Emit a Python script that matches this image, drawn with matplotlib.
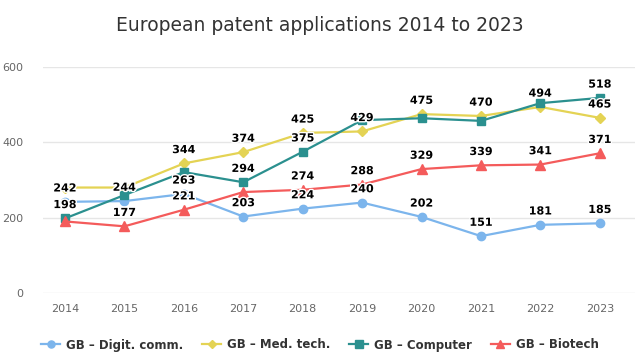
import matplotlib.pyplot as plt
import matplotlib.patheffects as pe

# Data
years = [2014, 2015, 2016, 2017, 2018, 2019, 2020, 2021, 2022, 2023]
digit_comm = [242, 244, 263, 203, 224, 240, 202, 151, 181, 185]
med_tech = [280, 280, 344, 374, 425, 429, 475, 470, 494, 465]
computer = [198, 260, 321, 294, 375, 459, 464, 457, 504, 518]
biotech = [190, 177, 221, 268, 274, 288, 329, 339, 341, 371]

# which data labels are drawn (the others are hidden by overlap in the original)
show_digit = [1, 1, 1, 1, 1, 1, 1, 1, 1, 1]
show_med = [0, 0, 1, 1, 1, 1, 1, 1, 1, 1]
show_comp = [1, 0, 0, 1, 1, 0, 0, 0, 0, 1]
show_bio = [0, 1, 1, 0, 1, 1, 1, 1, 1, 1]

series = [
    ('GB – Digit. comm.', digit_comm, show_digit, '#7cb5ec', 'o', 6),
    ('GB – Med. tech.', med_tech, show_med, '#e4d354', 'D', 5),
    ('GB – Computer', computer, show_comp, '#2b908f', 's', 6),
    ('GB – Biotech', biotech, show_bio, '#f45b5b', '^', 6.5),
]

plt.rcParams['font.family'] = 'DejaVu Sans'

fig = plt.figure(figsize=(6.4, 3.58), dpi=100)
ax = fig.add_axes([0.0672, 0.1816, 0.9248, 0.6312])

x = list(range(len(years)))
for name, vals, show, color, marker, ms in series:
    ax.plot(x, vals, color=color, marker=marker, markersize=ms, linewidth=1.6,
            label=name, zorder=3)
    for i, v in enumerate(vals):
        if show[i]:
            ax.annotate(str(v), (i, v), xytext=(0, 6), textcoords='offset points',
                        ha='center', va='bottom', fontsize=8, fontweight='bold',
                        color='black', zorder=5,
                        path_effects=[pe.withStroke(linewidth=2, foreground='white')])

ax.set_xlim(-0.37, 9.59)
ax.set_ylim(0, 600)
ax.set_yticks([0, 200, 400, 600])
ax.set_xticks(x)
ax.set_xticklabels([str(y) for y in years])
ax.grid(True, axis='y', color='#e6e6e6', linewidth=1, zorder=0)
for s in ax.spines.values():
    s.set_visible(False)
ax.tick_params(axis='both', length=0, labelsize=8, labelcolor='#666666')
ax.tick_params(axis='y', pad=14)
ax.tick_params(axis='x', pad=8)

fig.suptitle('European patent applications 2014 to 2023', y=0.955,
             fontsize=13.5, color='#333333')

leg = ax.legend(loc='center', bbox_to_anchor=(0.5, 1 - 345 / 358),
                bbox_transform=fig.transFigure, ncol=4, frameon=False,
                fontsize=8.5, handlelength=1.6, columnspacing=1.6,
                handletextpad=0.5, markerscale=0.85)
for t in leg.get_texts():
    t.set_color('#333333')
    t.set_fontweight('bold')

fig.savefig('out.png', dpi=100)
